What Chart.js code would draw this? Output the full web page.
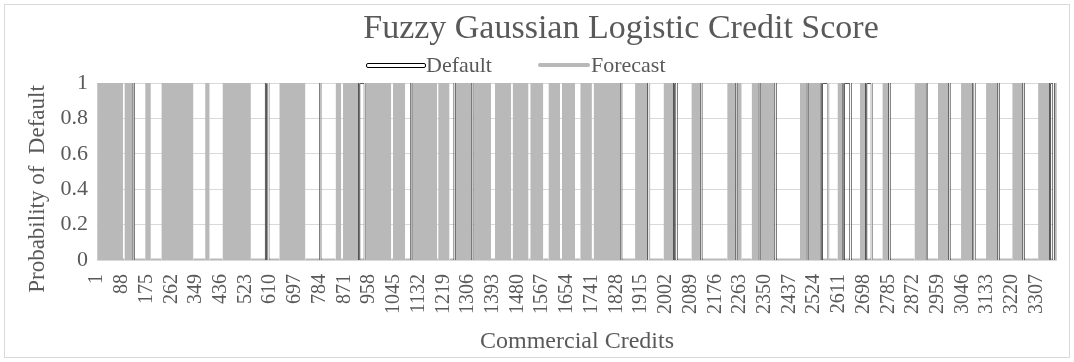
<!DOCTYPE html>
<html lang="en">
<head>
<meta charset="UTF-8">
<title>Fuzzy Gaussian Logistic Credit Score</title>
<style>
  html, body { margin: 0; padding: 0; background: #fff; }
  body {
    width: 1074px; height: 362px; overflow: hidden; position: relative;
    font-family: "Liberation Serif", "Times New Roman", serif; color: #595959;
  }
  .frame {
    position: absolute; left: 4px; top: 4px; width: 1064px; height: 352px;
    border: 1px solid #d9d9d9;
  }
  #chart-box { position: absolute; left: 0; top: 0; width: 1074px; height: 362px; }
  h1 {
    position: absolute; margin: 0; top: 7px; left: 0; width: 1242px;
    text-align: center; font-weight: normal; font-size: 34px; line-height: 40px;
  }
  .legend { position: absolute; top: 53px; font-size: 22px; line-height: 24px; }
  .legend span.line {
    position: absolute; top: 10px; height: 4px; border-radius: 2px;
  }
  #leg-default { left: 426px; }
  #leg-default span.line { left: -60px; width: 58px; background: #fff; border: 1px solid #000; height: 3px; top: 10px; }
  #leg-forecast { left: 591px; }
  #leg-forecast span.line { left: -53px; width: 52px; background: #b9b9b9; }
  #y-title {
    position: absolute; left: 37px; top: 189px; width: 260px; margin-left: -130px;
    text-align: center; font-size: 23px; line-height: 26px; margin-top: -13px;
    transform: rotate(-90deg); white-space: pre;
  }
</style>
</head>
<body>
<div class="frame"></div>
<div id="chart-box"><canvas id="chart" width="1074" height="362"></canvas></div>
<h1>Fuzzy Gaussian Logistic Credit Score</h1>
<div class="legend" id="leg-default"><span class="line"></span>Default</div>
<div class="legend" id="leg-forecast"><span class="line"></span>Forecast</div>
<div id="y-title">Probability of  Default</div>

<script src="https://cdn.jsdelivr.net/npm/chart.js"></script>
<script>
// number of commercial credits on the x axis
const nCredits = 3378;

// tick labels
const xTickLabels = [1, 88, 175, 262, 349, 436, 523, 610, 697, 784, 871, 958, 1045, 1132,
  1219, 1306, 1393, 1480, 1567, 1654, 1741, 1828, 1915, 2002, 2089, 2176, 2263, 2350,
  2437, 2524, 2611, 2698, 2785, 2872, 2959, 3046, 3133, 3220, 3307];
const yTickLabels = [0, 0.2, 0.4, 0.6, 0.8, 1];

// Forecast: credit ranges where the forecast sits at 1 (else 0)
const forecastRuns = [
  [1, 92], [97, 129], [170, 190], [227, 340], [381, 397], [442, 542], [642, 734],
  [840, 860], [866, 922], [944, 1036], [1042, 1085], [1109, 1197], [1201, 1241],
  [1262, 1318], [1325, 1387], [1401, 1458], [1463, 1519], [1525, 1571], [1589, 1630],
  [1636, 1683], [1701, 1742], [1748, 1842], [1894, 1939], [1994, 2030], [2092, 2124],
  [2218, 2248], [2251, 2269], [2304, 2330], [2336, 2383], [2474, 2500], [2505, 2550],
  [2606, 2627], [2685, 2706], [2764, 2787], [2877, 2918], [2959, 2998], [3041, 3083],
  [3129, 3171], [3221, 3259], [3312, 3353], [3367, 3378]
];

// Default: credit ranges that actually defaulted (value 1)
const defaultRuns = [
  [130, 130], [595, 603], [786, 786], [923, 943], [1106, 1106], [1259, 1259],
  [1321, 1321], [1845, 1845], [1941, 1943], [2031, 2040], [2127, 2127], [2250, 2250],
  [2333, 2333], [2388, 2388], [2502, 2502], [2551, 2573], [2628, 2652], [2707, 2727],
  [2789, 2789], [2921, 2921], [3000, 3000], [3085, 3089], [3173, 3173], [3261, 3261],
  [3354, 3366]
];

// turn 0/1 ranges into line points
function stepPoints(runs) {
  const pts = [{x: 1, y: 0}];
  runs.forEach(([a, b]) => {
    pts.push({x: a, y: 0}, {x: a, y: 1}, {x: b, y: 1}, {x: b, y: 0});
  });
  pts.push({x: nCredits, y: 0});
  return pts;
}

const onBase = ctx => ctx.p0.parsed.y === 0 && ctx.p1.parsed.y === 0;
const grey = '#b9b9b9';
const serif = '"Liberation Serif", "Times New Roman", serif';

new Chart(document.getElementById('chart'), {
  type: 'line',
  data: {
    datasets: [
      {
        label: 'Default',
        data: stepPoints(defaultRuns),
        borderColor: '#ffffff',
        borderWidth: 0.7,
        pointRadius: 0,
        order: 0,
        segment: { borderColor: ctx => onBase(ctx) ? 'rgba(0,0,0,0)' : undefined }
      },
      {
        label: 'Default outline',
        data: stepPoints(defaultRuns),
        borderColor: '#000000',
        borderWidth: 2,
        pointRadius: 0,
        order: 1,
        segment: { borderColor: ctx => onBase(ctx) ? 'rgba(0,0,0,0)' : undefined }
      },
      {
        label: 'Forecast',
        data: stepPoints(forecastRuns),
        borderColor: 'rgba(0,0,0,0)',
        borderWidth: 3,
        backgroundColor: grey,
        fill: 'origin',
        pointRadius: 0,
        order: 2,
        segment: { borderColor: ctx => onBase(ctx) ? grey : undefined }
      }
    ]
  },
  options: {
    responsive: false,
    animation: false,
    events: [],
    layout: { padding: { top: 83, right: 17, left: 0, bottom: 0 } },
    plugins: { legend: { display: false }, tooltip: { enabled: false } },
    scales: {
      x: {
        type: 'linear',
        min: 0.5,
        max: nCredits + 0.5,
        grid: { display: false },
        border: { display: false },
        afterBuildTicks: s => { s.ticks = xTickLabels.map(v => ({ value: v })); },
        afterFit: s => { s.height = 102; },
        ticks: {
          autoSkip: false, minRotation: 90, maxRotation: 90, padding: 6,
          color: '#595959', font: { family: serif, size: 20 },
          callback: v => String(v)
        },
        title: {
          display: true, text: 'Commercial Credits', color: '#595959',
          font: { family: serif, size: 24 }, padding: { top: 6, bottom: 6 }
        }
      },
      y: {
        min: 0,
        max: 1,
        grid: { color: '#d9d9d9', drawTicks: false },
        border: { display: false },
        afterBuildTicks: s => { s.ticks = yTickLabels.map(v => ({ value: v })); },
        afterFit: s => { s.width = 97; },
        ticks: {
          padding: 9, color: '#595959', font: { family: serif, size: 22 },
          callback: v => String(v)
        }
      }
    }
  }
});
</script>
</body>
</html>
